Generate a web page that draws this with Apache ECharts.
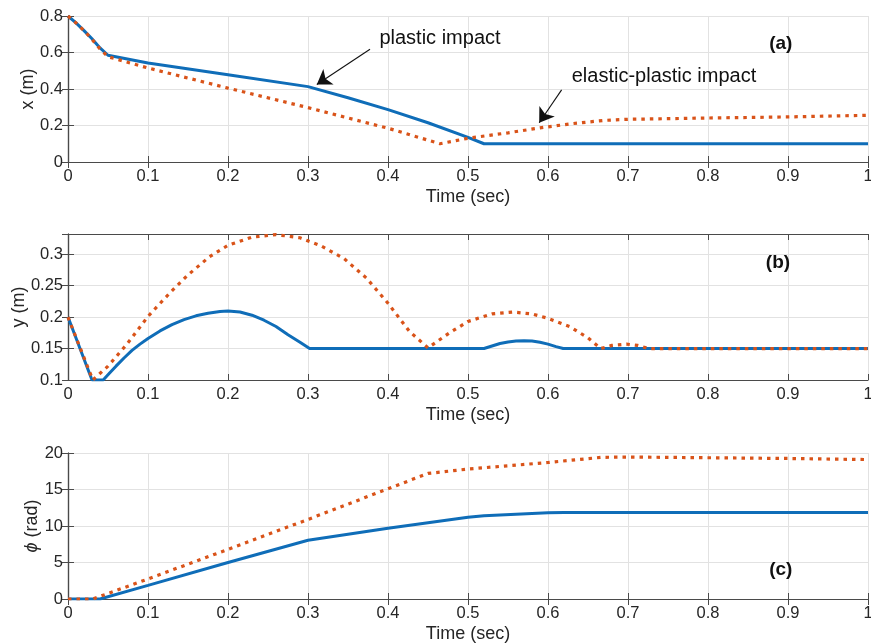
<!DOCTYPE html>
<html>
<head>
<meta charset="utf-8">
<script src="https://cdn.jsdelivr.net/npm/echarts@6/dist/echarts.min.js"></script>
<style>
  html, body { margin: 0; padding: 0; background: #ffffff; }
  #chart { width: 871px; height: 644px; }
</style>
</head>
<body>
<div id="chart"></div>
<script>
// ---- time axis ----
const timeTicks = [0, 0.1, 0.2, 0.3, 0.4, 0.5, 0.6, 0.7, 0.8, 0.9, 1];

// ---- (a) horizontal position x (m) ----
const xTicks = [0, 0.2, 0.4, 0.6, 0.8];
const tXPlastic = [0, 0.01, 0.02, 0.03, 0.04, 0.05, 0.1, 0.2, 0.3, 0.35, 0.4, 0.45, 0.5, 0.52, 1];
const xPlastic  = [0.8, 0.762, 0.72, 0.675, 0.625, 0.585, 0.542, 0.478, 0.413, 0.352, 0.287, 0.215, 0.135, 0.1, 0.1];
const tXElastic = [0, 0.01, 0.02, 0.03, 0.04, 0.05, 0.1, 0.2, 0.3, 0.4, 0.465, 0.5, 0.55, 0.59, 0.63, 0.67, 0.7, 0.8, 0.9, 1];
const xElastic  = [0.8, 0.762, 0.72, 0.672, 0.62, 0.577, 0.515, 0.405, 0.298, 0.185, 0.1, 0.13, 0.16, 0.187, 0.21, 0.228, 0.234, 0.241, 0.247, 0.256];

// ---- (b) vertical position y (m) ----
const yTicks = [0.1, 0.15, 0.2, 0.25, 0.3];
const yTop = 0.332;
const tYPlastic = [0, 0.03, 0.044, 0.052, 0.06, 0.07, 0.08, 0.09, 0.1, 0.115, 0.13, 0.145, 0.16, 0.175, 0.19, 0.2,
                   0.215, 0.23, 0.245, 0.26, 0.275, 0.29, 0.302, 0.52, 0.53, 0.54, 0.55, 0.56, 0.57, 0.58, 0.59, 0.6, 0.61, 0.619, 1];
const yPlastic  = [0.2, 0.1, 0.1, 0.111, 0.122, 0.135, 0.147, 0.157, 0.166, 0.178, 0.188, 0.196, 0.202, 0.206, 0.209, 0.2095,
                   0.208, 0.203, 0.195, 0.185, 0.172, 0.16, 0.15, 0.15, 0.154, 0.158, 0.1605, 0.162, 0.1625, 0.162, 0.16, 0.157, 0.153, 0.15, 0.15];
const tYElastic = [0, 0.031, 0.05, 0.073, 0.1, 0.127, 0.15, 0.177, 0.2, 0.23, 0.26, 0.29, 0.315, 0.345, 0.373, 0.4, 0.427, 0.45,
                   0.477, 0.5, 0.53, 0.556, 0.58, 0.6, 0.627, 0.65, 0.666, 0.68, 0.698, 0.712, 0.726, 1];
const yElastic  = [0.2, 0.1, 0.122, 0.156, 0.201, 0.238, 0.267, 0.296, 0.314, 0.327, 0.331, 0.326, 0.314, 0.293, 0.262, 0.222, 0.177, 0.151,
                   0.175, 0.193, 0.205, 0.208, 0.205, 0.198, 0.185, 0.167, 0.15, 0.155, 0.157, 0.155, 0.15, 0.15];

// ---- (c) rotation angle phi (rad) ----
const phiTicks = [0, 5, 10, 15, 20];
const tPhiPlastic = [0, 0.04, 0.1, 0.2, 0.3, 0.4, 0.5, 0.52, 0.6, 0.62, 1];
const phiPlastic  = [0, 0, 1.86, 5.0, 8.05, 9.7, 11.2, 11.4, 11.8, 11.85, 11.85];
const tPhiElastic = [0, 0.031, 0.1, 0.2, 0.3, 0.4, 0.45, 0.5, 0.6, 0.666, 0.7, 0.8, 0.9, 1];
const phiElastic  = [0, 0, 2.75, 6.8, 10.9, 15.1, 17.2, 17.8, 18.7, 19.4, 19.45, 19.35, 19.25, 19.1];

// ---- annotations ----
const plasticLabel = 'plastic impact';
const elasticLabel = 'elastic-plastic impact';
const panelTags = ['(a)', '(b)', '(c)'];

const FONT = '"Liberation Sans", Arial, Helvetica, sans-serif';
const BLUE = '#0f6db8';
const ORANGE = '#d95319';
const AXIS_COLOR = '#4a4a4a';
const GRID_COLOR = '#e2e2e2';
const TEXT_COLOR = '#262626';

const zip = (t, v) => t.map((x, i) => [x, v[i]]);
const fmt = v => String(+v.toFixed(2));

const grids = [
  { left: 68, top: 16,  width: 800, height: 146, outerBoundsMode: 'none', containLabel: false },
  { left: 68, top: 234, width: 800, height: 146, outerBoundsMode: 'none', containLabel: false },
  { left: 68, top: 453, width: 800, height: 146, outerBoundsMode: 'none', containLabel: false }
];

const tickStyle = { show: true, inside: true, length: 6, lineStyle: { color: AXIS_COLOR, width: 1 } };
const lineStyle = { show: true, lineStyle: { color: AXIS_COLOR, width: 1.2 } };

const xAxes = [];
const yAxes = [];
const yNames = [
  { name: 'x (m)', gap: 31, ticks: xTicks, max: xTicks[xTicks.length - 1] },
  { name: 'y (m)', gap: 40, ticks: yTicks, max: yTop },
  { name: '{i|ϕ} (rad)', gap: 27, ticks: phiTicks, max: phiTicks[phiTicks.length - 1] }
];

grids.forEach((g, i) => {
  xAxes.push({
    gridIndex: i, type: 'value', position: 'bottom',
    min: timeTicks[0], max: timeTicks[timeTicks.length - 1], interval: timeTicks[1] - timeTicks[0],
    name: 'Time (sec)', nameLocation: 'middle', nameGap: 26, nameMoveOverlap: false,
    nameTextStyle: { fontFamily: FONT, fontSize: 18, color: TEXT_COLOR },
    axisLine: lineStyle, axisTick: tickStyle,
    axisLabel: { fontFamily: FONT, fontSize: 16.5, color: TEXT_COLOR, margin: 6, formatter: fmt },
    splitLine: { show: true, lineStyle: { color: GRID_COLOR, width: 1 } }
  });
  xAxes.push({
    gridIndex: i, type: 'value', position: 'top',
    min: timeTicks[0], max: timeTicks[timeTicks.length - 1], interval: timeTicks[1] - timeTicks[0],
    axisLine: lineStyle, axisTick: tickStyle, axisLabel: { show: false }, splitLine: { show: false }
  });
  const yn = yNames[i];
  const step = +(yn.ticks[1] - yn.ticks[0]).toFixed(4);
  yAxes.push({
    gridIndex: i, type: 'value', position: 'left',
    min: yn.ticks[0], max: yn.max, interval: step,
    name: yn.name, nameLocation: 'middle', nameGap: yn.gap, nameMoveOverlap: false,
    nameTextStyle: { fontFamily: FONT, fontSize: 18, color: TEXT_COLOR,
      rich: { i: { fontFamily: FONT, fontSize: 18, fontStyle: 'italic', color: TEXT_COLOR } } },
    axisLine: lineStyle, axisTick: tickStyle,
    axisLabel: { fontFamily: FONT, fontSize: 16.5, color: TEXT_COLOR, margin: 5, formatter: fmt,
      showMaxLabel: yn.max === yn.ticks[yn.ticks.length - 1] },
    splitLine: { show: true, lineStyle: { color: GRID_COLOR, width: 1 } }
  });
  yAxes.push({
    gridIndex: i, type: 'value', position: 'right',
    min: yn.ticks[0], max: yn.max, interval: step,
    axisLine: lineStyle, axisTick: tickStyle, axisLabel: { show: false }, splitLine: { show: false }
  });
});

const tagPoint = (coord, text) => ({
  coord, value: text,
  label: { show: true, position: 'inside', formatter: text, fontFamily: FONT,
    fontSize: 19, fontWeight: 'bold', color: '#111' }
});
const textPoint = (coord, text) => ({
  coord, value: text,
  label: { show: true, position: 'inside', formatter: text, fontFamily: FONT,
    fontSize: 20, color: '#111' }
});
const invisibleMark = (data) => ({
  silent: true, symbol: 'circle', symbolSize: 1,
  itemStyle: { color: 'rgba(0,0,0,0)' }, data
});

const solid = (idx, data, extra) => Object.assign({
  type: 'line', xAxisIndex: idx * 2, yAxisIndex: idx * 2, data,
  showSymbol: false, symbol: 'none', smooth: false, z: 3,
  lineStyle: { color: BLUE, width: 3 }, itemStyle: { color: BLUE }
}, extra || {});
const dotted = (idx, data, extra) => Object.assign({
  type: 'line', xAxisIndex: idx * 2, yAxisIndex: idx * 2, data,
  showSymbol: false, symbol: 'none', smooth: false, z: 4,
  lineStyle: { color: ORANGE, width: 3.2, type: [3.5, 5], cap: 'butt' }, itemStyle: { color: ORANGE }
}, extra || {});

// callout arrows, drawn in data coordinates of panel (a)
const arrowLines = {
  silent: true, symbol: ['none', 'arrow'], symbolSize: 14,
  label: { show: false },
  lineStyle: { color: '#111', width: 1.1, type: 'solid' },
  itemStyle: { color: '#111' },
  emphasis: { disabled: true },
  data: [
    [{ coord: [0.3775, 0.6175] }, { coord: [0.311, 0.425] }],
    [{ coord: [0.617, 0.395] }, { coord: [0.589, 0.215] }]
  ]
};

const series = [
  solid(0, zip(tXPlastic, xPlastic), {
    markLine: arrowLines,
    markPoint: invisibleMark([
      textPoint([0.465, 0.679], plasticLabel),
      textPoint([0.745, 0.466], elasticLabel),
      tagPoint([0.891, 0.647], panelTags[0])
    ])
  }),
  dotted(0, zip(tXElastic, xElastic)),
  solid(1, zip(tYPlastic, yPlastic), {
    markPoint: invisibleMark([tagPoint([0.8875, 0.2857], panelTags[1])])
  }),
  dotted(1, zip(tYElastic, yElastic)),
  solid(2, zip(tPhiPlastic, phiPlastic), {
    markPoint: invisibleMark([tagPoint([0.891, 3.97], panelTags[2])])
  }),
  dotted(2, zip(tPhiElastic, phiElastic))
];

const chart = echarts.init(document.getElementById('chart'), null, { renderer: 'canvas' });
chart.setOption({
  backgroundColor: '#ffffff',
  animation: false,
  grid: grids,
  xAxis: xAxes,
  yAxis: yAxes,
  series
});
</script>
</body>
</html>
